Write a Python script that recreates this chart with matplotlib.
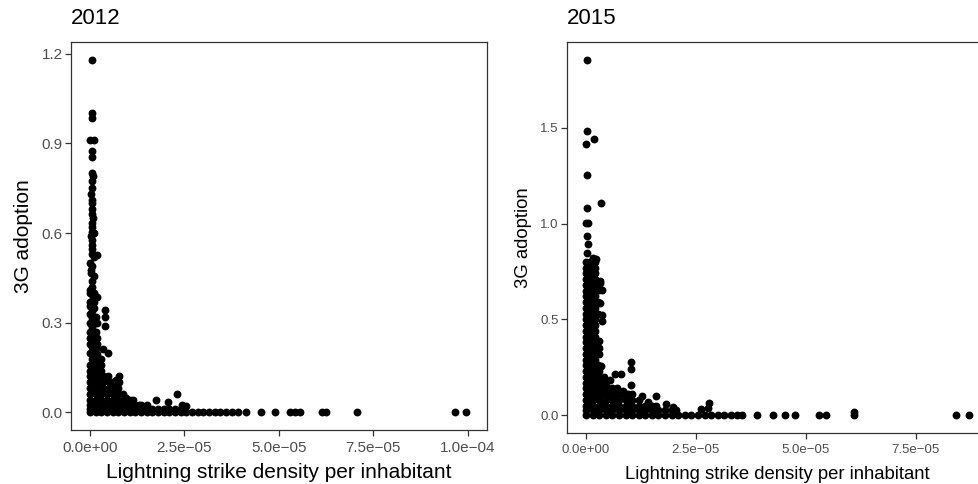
import matplotlib
matplotlib.use("Agg")
import matplotlib.pyplot as plt

plt.rcParams["font.family"] = ["Liberation Sans", "DejaVu Sans"]

# x values are in units of 1e-5 strikes per inhabitant
X_UNIT = 1e-5

# ---- 2012 ----
col_2012 = [(0.05, 1.18), (0.05, 1.0), (0.05, 0.985), (0.0, 0.91), (0.1, 0.91),
            (0.05, 0.875), (0.05, 0.855), (0.05, 0.80), (0.08, 0.79), (0.05, 0.775),
            (0.05, 0.75), (0.03, 0.73), (0.05, 0.71), (0.05, 0.70), (0.05, 0.68),
            (0.05, 0.665), (0.08, 0.65), (0.05, 0.635), (0.05, 0.62), (0.05, 0.605),
            (0.1, 0.60), (0.02, 0.59), (0.05, 0.575), (0.05, 0.56), (0.05, 0.545),
            (0.05, 0.53), (0.2, 0.527), (0.1, 0.52), (0.0, 0.50), (0.05, 0.49),
            (0.03, 0.475), (0.03, 0.465), (0.1, 0.455), (0.05, 0.44), (0.05, 0.42),
            (0.0, 0.41), (0.0, 0.40), (0.1, 0.40), (0.08, 0.385), (0.18, 0.385),
            (0.0, 0.37), (0.1, 0.37), (0.0, 0.355), (0.1, 0.35), (0.05, 0.34),
            (0.0, 0.33), (0.15, 0.32), (0.05, 0.315), (0.0, 0.30), (0.1, 0.30),
            (0.2, 0.30), (0.05, 0.285), (0.0, 0.27), (0.15, 0.27), (0.1, 0.26),
            (0.0, 0.25), (0.2, 0.25), (0.1, 0.24), (0.0, 0.23), (0.2, 0.23),
            (0.05, 0.22), (0.15, 0.215), (0.0, 0.20), (0.1, 0.20), (0.2, 0.195),
            (0.25, 0.18), (0.05, 0.18), (0.15, 0.175)]

outl_2012 = [(0.39, 0.343), (0.39, 0.32), (0.39, 0.29), (0.35, 0.213), (0.48, 0.20),
             (0.3, 0.18), (0.76, 0.121), (0.76, 0.101), (0.44, 0.118), (0.7, 0.107),
             (0.39, 0.073), (0.66, 0.085), (0.96, 0.047), (1.31, 0.023), (1.75, 0.042),
             (2.06, 0.036), (2.3, 0.062), (2.45, 0.025), (2.55, 0.02)]

mass_2012 = [(0, 0.16), (0.1, 0.16), (0.2, 0.16), (0.3, 0.16),
             (0, 0.14), (0.1, 0.14), (0.2, 0.14), (0.3, 0.14),
             (0, 0.12), (0.12, 0.12), (0.24, 0.12), (0.36, 0.12), (0.48, 0.12),
             (0, 0.10), (0.12, 0.10), (0.24, 0.10), (0.36, 0.10), (0.5, 0.10), (0.6, 0.10),
             (0, 0.08), (0.12, 0.08), (0.24, 0.08), (0.36, 0.08), (0.5, 0.08), (0.62, 0.08),
             (0.75, 0.08),
             (0, 0.06), (0.15, 0.06), (0.3, 0.06), (0.45, 0.06), (0.6, 0.06), (0.75, 0.06),
             (0.88, 0.06),
             (0, 0.04), (0.15, 0.04), (0.3, 0.04), (0.45, 0.04), (0.6, 0.04), (0.75, 0.04),
             (0.9, 0.04), (1.05, 0.04), (1.15, 0.04),
             (0, 0.025), (0.15, 0.025), (0.3, 0.025), (0.45, 0.025), (0.6, 0.025),
             (0.75, 0.025), (0.9, 0.025), (1.05, 0.025), (1.2, 0.025), (1.35, 0.025),
             (1.5, 0.025),
             (0, 0.012), (0.15, 0.012), (0.3, 0.012), (0.45, 0.012), (0.6, 0.012),
             (0.75, 0.012), (0.9, 0.012), (1.05, 0.012), (1.2, 0.012), (1.35, 0.012),
             (1.5, 0.012), (1.65, 0.012), (1.8, 0.012), (1.95, 0.012), (2.1, 0.012),
             (2.25, 0.012), (2.4, 0.012)]

base_x_2012 = [0, 0.15, 0.3, 0.45, 0.6, 0.75, 0.9, 1.05, 1.2, 1.35, 1.5, 1.65, 1.8,
               1.95, 2.1, 2.25, 2.4, 2.55, 2.7, 2.85, 3.0, 3.15, 3.3, 3.45, 3.6, 3.75,
               3.93, 4.13, 4.52, 4.9, 5.29, 5.42, 5.55, 6.15, 6.25, 7.08, 9.66, 9.95]

# ---- 2015 ----
col_2015 = [(0.02, 1.855), (0.02, 1.486), (0.19, 1.443), (0.0, 1.417), (0.02, 1.253),
            (0.35, 1.105), (0.02, 1.083), (0.0, 1.005), (0.05, 1.005), (0.03, 0.937),
            (0.05, 0.895), (0.03, 0.847), (0.17, 0.82), (0.22, 0.815), (0.2, 0.80),
            (0.31, 0.70), (0.33, 0.69), (0.36, 0.655), (0.3, 0.655), (0.33, 0.587),
            (0.36, 0.525), (0.36, 0.49), (0.3, 0.386), (0.3, 0.35), (0.35, 0.256)]

outl_2015 = [(1.03, 0.277), (1.03, 0.239), (1.03, 0.156), (0.65, 0.215), (0.8, 0.215),
             (0.55, 0.182), (0.45, 0.15), (1.27, 0.10), (1.6, 0.10), (1.82, 0.06),
             (1.99, 0.045), (1.42, 0.07), (2.79, 0.066), (2.77, 0.04), (2.61, 0.03)]

mass_2015 = [(0, 0.80), (0.1, 0.80),
             (0, 0.77), (0.1, 0.77), (0.2, 0.77),
             (0.05, 0.755), (0.15, 0.755),
             (0, 0.74), (0.1, 0.74), (0.2, 0.74),
             (0.05, 0.725), (0.15, 0.725),
             (0, 0.71), (0.1, 0.71), (0.2, 0.71),
             (0, 0.68), (0.1, 0.68), (0.2, 0.68),
             (0.05, 0.665), (0.15, 0.665),
             (0, 0.65), (0.1, 0.65), (0.2, 0.65),
             (0, 0.62), (0.1, 0.62), (0.2, 0.62),
             (0.05, 0.605), (0.15, 0.605),
             (0, 0.59), (0.1, 0.59), (0.2, 0.59), (0.28, 0.59),
             (0, 0.56), (0.1, 0.56), (0.2, 0.56),
             (0.05, 0.545), (0.15, 0.545),
             (0, 0.53), (0.1, 0.53), (0.2, 0.53), (0.28, 0.53),
             (0, 0.50), (0.1, 0.50), (0.2, 0.50),
             (0.05, 0.485), (0.15, 0.485),
             (0, 0.47), (0.1, 0.47), (0.2, 0.47),
             (0, 0.44), (0.1, 0.44), (0.2, 0.44),
             (0.05, 0.425), (0.15, 0.425),
             (0, 0.41), (0.1, 0.41), (0.2, 0.41),
             (0, 0.38), (0.1, 0.38), (0.2, 0.38),
             (0.05, 0.365), (0.15, 0.365),
             (0, 0.35), (0.1, 0.35), (0.2, 0.35),
             (0, 0.32), (0.1, 0.32), (0.2, 0.32), (0.3, 0.32),
             (0.05, 0.305), (0.15, 0.305),
             (0, 0.29), (0.1, 0.29), (0.2, 0.29),
             (0, 0.26), (0.1, 0.26), (0.2, 0.26), (0.28, 0.26),
             (0.05, 0.245), (0.15, 0.245),
             (0, 0.23), (0.1, 0.23), (0.2, 0.23), (0.3, 0.23),
             (0, 0.20), (0.1, 0.20), (0.2, 0.20), (0.3, 0.20), (0.4, 0.20),
             (0.05, 0.185), (0.15, 0.185), (0.25, 0.185),
             (0, 0.17), (0.1, 0.17), (0.2, 0.17), (0.3, 0.17), (0.4, 0.17),
             (0, 0.14), (0.1, 0.14), (0.2, 0.14), (0.3, 0.14), (0.4, 0.14), (0.5, 0.14),
             (0.6, 0.14), (0.7, 0.14),
             (0.05, 0.125), (0.25, 0.125), (0.45, 0.125), (0.65, 0.125), (0.85, 0.125),
             (0, 0.11), (0.12, 0.11), (0.24, 0.11), (0.36, 0.11), (0.48, 0.11),
             (0.6, 0.11), (0.72, 0.11), (0.84, 0.11), (0.95, 0.11), (1.05, 0.11),
             (0.1, 0.095), (0.3, 0.095), (0.5, 0.095), (0.7, 0.095), (0.9, 0.095),
             (0, 0.08), (0.15, 0.08), (0.3, 0.08), (0.45, 0.08), (0.6, 0.08),
             (0.75, 0.08), (0.9, 0.08), (1.05, 0.08), (1.2, 0.08),
             (0.1, 0.065), (0.4, 0.065), (0.7, 0.065), (1.0, 0.065),
             (0, 0.05), (0.15, 0.05), (0.3, 0.05), (0.45, 0.05), (0.6, 0.05),
             (0.75, 0.05), (0.9, 0.05), (1.05, 0.05), (1.2, 0.05), (1.35, 0.05),
             (1.5, 0.05), (1.6, 0.05),
             (0, 0.025), (0.15, 0.025), (0.3, 0.025), (0.45, 0.025), (0.6, 0.025),
             (0.75, 0.025), (0.9, 0.025), (1.05, 0.025), (1.2, 0.025), (1.35, 0.025),
             (1.5, 0.025), (1.65, 0.025), (1.8, 0.025), (1.95, 0.025), (2.05, 0.025)]

base_x_2015 = [0, 0.15, 0.3, 0.45, 0.6, 0.75, 0.9, 1.05, 1.2, 1.35, 1.5, 1.65, 1.8,
               1.95, 2.1, 2.25, 2.4, 2.55, 2.7, 2.85, 3.0, 3.15, 3.3, 3.43,
               3.55, 3.9, 4.26, 4.53, 4.76, 5.29, 5.46, 6.1, 8.42, 8.71]
extra_2015 = [(6.1, 0.016)]

x_ticks_2012 = [0, 2.5e-5, 5e-5, 7.5e-5, 1e-4]
x_labels_2012 = ["0.0e+00", "2.5e\u221205", "5.0e\u221205", "7.5e\u221205", "1.0e\u221204"]
y_ticks_2012 = [0.0, 0.3, 0.6, 0.9, 1.2]
x_ticks_2015 = [0, 2.5e-5, 5e-5, 7.5e-5]
x_labels_2015 = x_labels_2012[:4]
y_ticks_2015 = [0.0, 0.5, 1.0, 1.5]


def collect(groups, base_x):
    xs, ys = [], []
    for g in groups:
        for x, y in g:
            xs.append(x * X_UNIT)
            ys.append(y)
    for x in base_x:
        xs.append(x * X_UNIT)
        ys.append(0.0)
    return xs, ys


def style(ax, title, xticks, xlabels, yticks, tick_fs, lab_fs, ypad, xpad):
    for s in ax.spines.values():
        s.set_color("#333333")
        s.set_linewidth(0.9)
    ax.set_xticks(xticks)
    ax.set_xticklabels(xlabels)
    ax.set_yticks(yticks)
    ax.set_yticklabels(["%.1f" % v for v in yticks])
    ax.tick_params(length=4, width=0.9, color="#333333", labelcolor="#4D4D4D",
                   labelsize=tick_fs, pad=2)
    ax.tick_params(axis="x", pad=4)
    ax.set_xlabel("Lightning strike density per inhabitant", fontsize=lab_fs, labelpad=xpad)
    ax.set_ylabel("3G adoption", fontsize=lab_fs, labelpad=ypad)
    ax.set_title(title, loc="left", fontsize=16, pad=13)


fig = plt.figure(figsize=(9.79, 4.84), dpi=100)

ax1 = fig.add_axes([0.0725, 0.1116, 0.4245, 0.8016])
x1, y1 = collect([col_2012, outl_2012, mass_2012], base_x_2012)
ax1.scatter(x1, y1, s=32, c="black", linewidths=0)
ax1.set_xlim(-5e-6, 1.05e-4)
ax1.set_ylim(-0.059, 1.239)
style(ax1, "2012", x_ticks_2012, x_labels_2012, y_ticks_2012, 11, 15, 6, 6)

ax2 = fig.add_axes([0.5789, 0.1054, 0.4305, 0.8078])
x2, y2 = collect([col_2015, outl_2015, mass_2015, extra_2015], base_x_2015)
ax2.scatter(x2, y2, s=32, c="black", linewidths=0)
ax2.set_xlim(-4.36e-6, 9.146e-5)
ax2.set_ylim(-0.093, 1.948)
style(ax2, "2015", x_ticks_2015, x_labels_2015, y_ticks_2015, 9.5, 13.3, 6, 7)

fig.savefig("out.png", dpi=100)
